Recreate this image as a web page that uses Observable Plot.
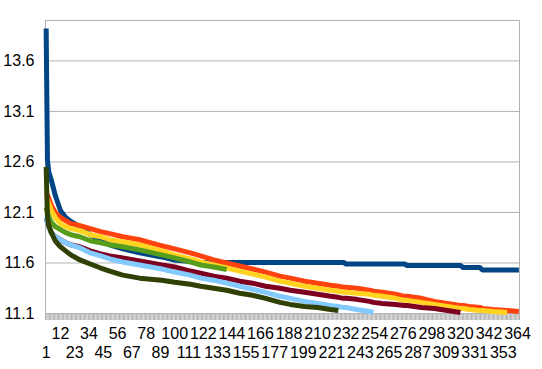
<!DOCTYPE html>
<html><head><meta charset="utf-8">
<script src="https://cdn.jsdelivr.net/npm/d3@7"></script>
<script src="https://cdn.jsdelivr.net/npm/@observablehq/plot@0.6"></script>
<style>body{margin:0;background:#fff;} svg{display:block}</style>
</head><body><div id="chart"></div>
<script>
// sampled category positions (days)
const days = [1,2,3,5,8,12,16,20,27,35,43,50,60,73,90,100,112,120,130,140,150,160,170,181,189,200,210,220,226,230,232,240,250,253,260,270,277,279,290,300,310,320,322,327,335,337,345,356,365];

const seriesBlue = [13.92,12.62,12.50,12.42,12.27,12.12,12.05,12.01,11.96,11.88,11.83,11.78,11.74,11.70,11.66,11.63,11.615,11.605,11.605,11.605,11.605,11.605,11.605,11.605,11.605,11.605,11.605,11.605,11.605,11.605,11.59,11.59,11.59,11.59,11.59,11.59,11.59,11.575,11.575,11.575,11.575,11.575,11.555,11.555,11.555,11.53,11.53,11.53,11.53];
const seriesOrange = [12.30,12.27,12.24,12.17,12.10,12.05,12.02,11.99,11.97,11.94,11.91,11.89,11.86,11.83,11.77,11.74,11.70,11.67,11.63,11.60,11.57,11.54,11.51,11.47,11.45,11.42,11.40,11.38,11.37,11.36,11.36,11.35,11.33,11.32,11.31,11.29,11.27,11.27,11.25,11.22,11.20,11.18,11.18,11.17,11.16,11.15,11.14,11.13,11.12];
const seriesYellow = [12.25,12.22,12.19,12.12,12.05,11.99,11.96,11.94,11.92,11.88,11.86,11.83,11.81,11.78,11.72,11.68,11.64,11.61,11.58,11.55,11.52,11.49,11.46,11.42,11.40,11.37,11.35,11.33,11.32,11.31,11.31,11.30,11.29,11.28,11.27,11.25,11.23,11.23,11.21,11.19,11.17,11.15,11.15,11.14,11.13,11.13,11.12,11.11,null];
const seriesGreen = [12.15,12.10,12.06,12.00,11.96,11.93,11.90,11.88,11.86,11.82,11.80,11.78,11.76,11.73,11.68,11.65,11.61,11.58,11.56,11.535,null,null,null,null,null,null,null,null,null,null,null,null,null,null,null,null,null,null,null,null,null,null,null,null,null,null,null,null,null];
const seriesDarkRed = [12.05,12.00,11.96,11.90,11.86,11.83,11.80,11.78,11.76,11.72,11.69,11.67,11.65,11.62,11.58,11.56,11.52,11.50,11.47,11.45,11.42,11.40,11.37,11.35,11.33,11.31,11.29,11.27,11.26,11.25,11.25,11.24,11.22,11.21,11.20,11.19,11.18,11.18,11.16,11.15,11.13,11.11,null,null,null,null,null,null,null];
const seriesLightBlue = [12.05,12.00,11.96,11.90,11.86,11.83,11.80,11.78,11.75,11.70,11.67,11.64,11.61,11.58,11.54,11.51,11.48,11.45,11.43,11.40,11.37,11.34,11.31,11.27,11.25,11.22,11.20,11.18,11.17,11.16,11.16,11.14,11.12,11.11,null,null,null,null,null,null,null,null,null,null,null,null,null,null,null];
const seriesOlive = [12.55,12.05,11.97,11.90,11.82,11.76,11.72,11.68,11.63,11.59,11.55,11.52,11.48,11.45,11.43,11.41,11.39,11.37,11.35,11.33,11.30,11.28,11.25,11.21,11.19,11.17,11.16,11.14,11.13,null,null,null,null,null,null,null,null,null,null,null,null,null,null,null,null,null,null,null,null];

const seriesNames = ["Series1","Series2","Series3","Series4","Series5","Series6","Series7"];
const seriesColors = ["#004586","#ff420e","#ffd320","#579d1c","#7e0021","#83caff","#314004"];
const yTicks = [11.1, 11.6, 12.1, 12.6, 13.1, 13.6];
const xLabelsUpper = [12,34,56,78,100,122,144,166,188,210,232,254,276,298,320,342,364];
const xLabelsLower = [1,23,45,67,89,111,133,155,177,199,221,243,265,287,309,331,353];

const allSeries = [seriesBlue, seriesOrange, seriesYellow, seriesGreen, seriesDarkRed, seriesLightBlue, seriesOlive];
const rows = [];
allSeries.forEach((vals, s) => days.forEach((d, i) => {
  if (vals[i] != null) rows.push({day: d, value: vals[i], series: seriesNames[s]});
}));
const categoryEdges = d3.range(0.5, 366, 1);

const chart = Plot.plot({
  width: 542, height: 369,
  marginLeft: 45, marginRight: 23, marginTop: 20, marginBottom: 56,
  x: {domain: [0.5, 365.5]},
  y: {domain: [11.1, 14.0]},
  color: {domain: seriesNames, range: seriesColors},
  style: {fontFamily: "'Liberation Sans', Arial, sans-serif", fontSize: "16px", color: "#000", background: "#fff"},
  marks: [
    Plot.gridY(yTicks, {stroke: "#b3b3b3", strokeOpacity: 1}),
    Plot.frame({stroke: "#b3b3b3"}),
    Plot.axisX(categoryEdges, {tickSize: 7, stroke: "#b3b3b3", strokeOpacity: 1, tickFormat: () => "", label: null}),
    Plot.axisX(xLabelsUpper, {tickSize: 0, tickPadding: 14, tickFormat: d => String(d), label: null, fill: "#000"}),
    Plot.axisX(xLabelsLower, {tickSize: 0, tickPadding: 33, tickFormat: d => String(d), label: null, fill: "#000"}),
    Plot.axisY(yTicks, {tickSize: 0, tickPadding: 11, tickFormat: d3.format(".1f"), label: null, fill: "#000"}),
    Plot.line(rows, {x: "day", y: "value", z: "series", stroke: "series", strokeWidth: 5, strokeLinejoin: "round", strokeLinecap: "butt"})
  ]
});
document.getElementById("chart").appendChild(chart);
</script>
</body></html>
